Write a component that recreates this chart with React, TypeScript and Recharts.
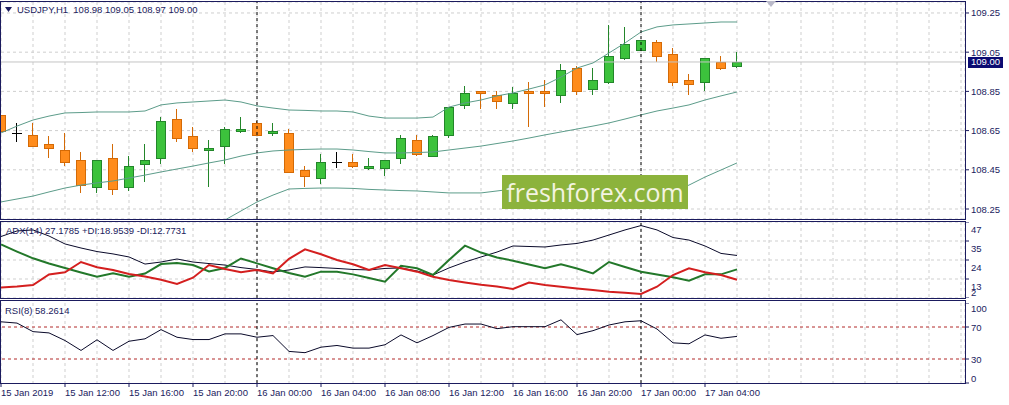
import React from 'react';
import { ComposedChart, Bar, Line, XAxis, YAxis, CartesianGrid, ReferenceLine } from 'recharts';

// ---------- data ----------
const opens = [108.73, 108.64, 108.63, 108.58, 108.55, 108.50, 108.36, 108.51, 108.36, 108.48, 108.51, 108.71, 108.62, 108.55, 108.57, 108.65, 108.69, 108.64, 108.64, 108.45, 108.41, 108.49, 108.49, 108.46, 108.46, 108.51, 108.60, 108.52, 108.63, 108.78, 108.85, 108.83, 108.79, 108.85, 108.85, 108.83, 108.97, 108.86, 108.90, 109.02, 109.06, 109.10, 109.04, 108.91, 108.90, 109.00, 108.98];
const highs = [108.75, 108.69, 108.69, 108.62, 108.64, 108.54, 108.50, 108.58, 108.52, 108.58, 108.72, 108.76, 108.67, 108.60, 108.67, 108.72, 108.70, 108.69, 108.66, 108.47, 108.53, 108.54, 108.53, 108.51, 108.50, 108.63, 108.63, 108.63, 108.77, 108.88, 108.85, 108.85, 108.87, 108.90, 108.91, 108.99, 108.98, 108.97, 109.19, 109.18, 109.11, 109.11, 109.07, 108.94, 109.02, 109.03, 109.05];
const lows = [108.64, 108.59, 108.57, 108.51, 108.47, 108.33, 108.33, 108.32, 108.34, 108.39, 108.48, 108.59, 108.54, 108.36, 108.48, 108.64, 108.62, 108.62, 108.44, 108.36, 108.38, 108.46, 108.46, 108.45, 108.42, 108.48, 108.52, 108.52, 108.61, 108.76, 108.76, 108.76, 108.76, 108.67, 108.77, 108.79, 108.83, 108.83, 108.89, 109.01, 109.06, 109.00, 108.88, 108.83, 108.85, 108.96, 108.97];
const closes = [108.65, 108.64, 108.57, 108.56, 108.49, 108.37, 108.50, 108.35, 108.47, 108.50, 108.70, 108.61, 108.56, 108.56, 108.66, 108.66, 108.63, 108.65, 108.44, 108.42, 108.49, 108.49, 108.47, 108.47, 108.50, 108.61, 108.53, 108.62, 108.77, 108.84, 108.84, 108.80, 108.84, 108.84, 108.84, 108.96, 108.85, 108.91, 109.03, 109.09, 109.11, 109.03, 108.90, 108.89, 109.02, 108.97, 109.00];

const bbUpper = [108.638, 108.673, 108.704, 108.724, 108.740, 108.742, 108.745, 108.745, 108.745, 108.750, 108.781, 108.791, 108.796, 108.801, 108.806, 108.796, 108.776, 108.765, 108.755, 108.753, 108.750, 108.750, 108.745, 108.724, 108.714, 108.714, 108.714, 108.719, 108.770, 108.791, 108.806, 108.827, 108.842, 108.862, 108.883, 108.923, 108.969, 108.995, 109.046, 109.097, 109.153, 109.179, 109.189, 109.194, 109.199, 109.204, 109.204];
const bbMiddle = [108.286, 108.301, 108.316, 108.337, 108.357, 108.372, 108.383, 108.393, 108.408, 108.423, 108.439, 108.454, 108.469, 108.485, 108.500, 108.520, 108.536, 108.546, 108.551, 108.554, 108.556, 108.556, 108.551, 108.543, 108.536, 108.536, 108.538, 108.541, 108.551, 108.561, 108.571, 108.584, 108.597, 108.612, 108.628, 108.643, 108.658, 108.673, 108.689, 108.709, 108.730, 108.750, 108.765, 108.781, 108.806, 108.827, 108.847];
const bbLower = [107.934, 107.929, 107.929, 107.949, 107.974, 108.003, 108.020, 108.041, 108.071, 108.097, 108.097, 108.117, 108.143, 108.168, 108.194, 108.240, 108.286, 108.321, 108.352, 108.355, 108.357, 108.357, 108.355, 108.350, 108.347, 108.344, 108.342, 108.337, 108.332, 108.332, 108.332, 108.342, 108.352, 108.362, 108.372, 108.362, 108.347, 108.352, 108.332, 108.321, 108.306, 108.321, 108.342, 108.372, 108.413, 108.449, 108.485];

const adxMain = [38.4, 41.7, 42.3, 38.7, 34.0, 31.6, 29.5, 28.1, 26.3, 22.1, 23.3, 25.1, 23.3, 22.4, 21.5, 20.0, 18.9, 17.4, 18.6, 20.4, 20.0, 19.5, 18.9, 18.6, 19.5, 19.8, 18.0, 15.6, 19.8, 23.3, 26.3, 29.2, 32.8, 32.5, 32.2, 33.4, 34.3, 36.3, 39.3, 42.3, 44.9, 42.3, 37.8, 36.3, 32.8, 28.4, 27.1785];
const plusDI = [33.7, 29.5, 25.5, 22.4, 19.8, 17.1, 14.6, 16.6, 14.6, 16.5, 22.1, 22.7, 21.5, 17.7, 19.8, 25.4, 22.5, 19.6, 16.8, 14.6, 17.6, 17.6, 16.0, 13.8, 11.7, 21.1, 19.6, 15.6, 24.5, 33.0, 28.9, 26.0, 24.1, 21.8, 19.6, 22.0, 19.5, 16.6, 23.3, 20.4, 17.6, 15.9, 14.3, 12.2, 16.0, 16.0, 18.9539];
const minusDI = [8.2, 8.8, 9.7, 15.9, 17.2, 23.3, 20.2, 18.6, 16.2, 14.7, 12.8, 10.3, 14.0, 21.5, 19.2, 17.2, 18.6, 16.6, 25.2, 30.8, 27.9, 24.5, 22.0, 18.6, 21.5, 19.6, 17.6, 14.6, 12.7, 11.2, 9.8, 8.8, 7.3, 11.1, 9.7, 8.7, 7.6, 6.7, 5.7, 5.1, 4.4, 8.7, 15.6, 19.6, 17.2, 15.6, 12.7731];
const rsiValues = [76.5, 74.9, 64.2, 62.6, 53.1, 40.7, 54.0, 40.7, 52.2, 55.2, 66.7, 57.2, 54.3, 54.3, 61.4, 61.4, 57.2, 59.3, 39.5, 37.9, 44.8, 46.9, 43.6, 43.6, 47.8, 60.1, 50.2, 59.3, 69.5, 73.7, 73.7, 67.9, 70.4, 70.4, 70.4, 79.0, 60.5, 65.4, 72.5, 76.5, 77.8, 67.5, 50.2, 49.0, 60.1, 55.9, 58.2614];

const timeLabels = ['15 Jan 2019', '15 Jan 12:00', '15 Jan 16:00', '15 Jan 20:00', '16 Jan 00:00', '16 Jan 04:00', '16 Jan 08:00', '16 Jan 12:00', '16 Jan 16:00', '16 Jan 20:00', '17 Jan 00:00', '17 Jan 04:00'];
const priceTicks = [108.25, 108.45, 108.65, 108.85, 109.05, 109.25];
const adxTicks = [2, 13.25, 24.5, 35.75, 47];
const rsiTicks = [0, 30, 70, 100];
const rsiLevels = [30, 70];
const separatorBars = [16, 40];
const symbol = 'USDJPY,H1';

// ---------- layout / style ----------
const W = 1009;
const AXIS_W = 44;
const X_DOMAIN: [number, number] = [0, 60.25];
const PRICE_DOMAIN: [number, number] = [108.199, 109.306];
const BARS_PER_LABEL = 4;
const BARS_PER_GRID = 2;
const FONT = "'Liberation Sans', Arial, sans-serif";
const FS = 9.5;
const NAVY = '#1b1b5e';
const GRID = '#cfcfcf';
const BB = '#5c9c8a';
const UP_FILL = '#3cc23c', UP_LINE = '#23862a';
const DN_FILL = '#ff8c1c', DN_LINE = '#d46a06';

const gridTicks = Array.from({ length: 31 }, (_, j) => j * BARS_PER_GRID);
const timeTicks = timeLabels.map((_, j) => j * BARS_PER_LABEL);
const last = closes.length - 1;

const Candle = (props: any) => {
  const { x, y, width, height, payload } = props;
  if (x == null || y == null || !payload) return null;
  const top = Math.min(y, y + height);
  const span = Math.abs(height);
  const { o, h, l, c } = payload;
  const k = h > l ? span / (h - l) : 0;
  const py = (v: number) => top + (h - v) * k;
  const cx = Math.round(x + width / 2) - 0.5;
  const yh = Math.round(py(h)), yl = Math.round(py(l));
  const yo = Math.round(py(o)), yc = Math.round(py(c));
  const bx = Math.round(x) + 0.5;
  const bw = Math.round(width) - 1;
  if (o === c) {
    return (
      <g>
        <line x1={cx} x2={cx} y1={yh} y2={yl} stroke="#000" strokeWidth={1} />
        <line x1={bx - 0.5} x2={bx + bw + 0.5} y1={yo + 0.5} y2={yo + 0.5} stroke="#000" strokeWidth={1} />
      </g>
    );
  }
  const bull = c > o;
  const bt = Math.min(yo, yc);
  const bh = Math.max(Math.abs(yo - yc), 1);
  return (
    <g>
      <line x1={cx} x2={cx} y1={yh} y2={yl} stroke={bull ? UP_LINE : DN_LINE} strokeWidth={1} />
      <rect x={bx} y={bt + 0.5} width={bw} height={bh} fill={bull ? UP_FILL : DN_FILL} stroke={bull ? UP_LINE : DN_LINE} strokeWidth={1} />
    </g>
  );
};

const PriceTick = (p: any) => (
  <text x={p.x} y={p.y} dy={3.5} textAnchor="start" fontFamily={FONT} fontSize={FS} fill={NAVY}>
    {Number(p.payload.value).toFixed(2)}
  </text>
);

const AdxTick = (p: any) => {
  const v = Number(p.payload.value);
  const dy = v === adxTicks[0] ? -2.5 : 10.5;
  return (
    <text x={p.x} y={p.y} dy={dy} textAnchor="start" fontFamily={FONT} fontSize={FS} fill={NAVY}>
      {Math.floor(v)}
    </text>
  );
};

const RsiTick = (p: any) => {
  const v = Number(p.payload.value);
  const dy = v === rsiTicks[rsiTicks.length - 1] ? 8.5 : v === rsiTicks[0] ? -1.5 : 3.5;
  return (
    <text x={p.x} y={p.y} dy={dy} textAnchor="start" fontFamily={FONT} fontSize={FS} fill={NAVY}>
      {v}
    </text>
  );
};

const TimeTick = (p: any) => {
  const idx = Math.round(Number(p.payload.value) / BARS_PER_LABEL);
  return (
    <text x={p.x} y={p.y} dy={7} textAnchor="start" fontFamily={FONT} fontSize={FS} fill={NAVY}>
      {timeLabels[idx]}
    </text>
  );
};

const PriceBox = (p: any) => {
  const vb = p.viewBox || {};
  const bx = (vb.x || 0) + (vb.width || 0) + 3;
  return (
    <g>
      <rect x={bx} y={vb.y - 5} width={35} height={11} fill="#0b0b72" />
      <text x={bx + 17.5} y={vb.y} dy={3.5} textAnchor="middle" fontFamily={FONT} fontSize={FS} fill="#fff">
        {closes[last].toFixed(2)}
      </text>
    </g>
  );
};

const border = (top: number, height: number): React.CSSProperties => ({
  position: 'absolute', left: 0, top, width: 966, height, border: `1px solid ${NAVY}`,
  boxSizing: 'border-box', pointerEvents: 'none',
});

const textStyle: React.CSSProperties = {
  position: 'absolute', fontFamily: FONT, fontSize: FS, color: NAVY, whiteSpace: 'pre', lineHeight: '11px',
};

export default function App() {
  const rows = opens.map((o, i) => ({
    i, o, h: highs[i], l: lows[i], c: closes[i], range: [lows[i], highs[i]],
    bbU: bbUpper[i], bbM: bbMiddle[i], bbL: bbLower[i],
    adx: adxMain[i], pdi: plusDI[i], mdi: minusDI[i], rsi: rsiValues[i],
  }));
  const margin = { top: 0, right: 0, bottom: 0, left: 1 };

  return (
    <div style={{ position: 'absolute', left: 0, top: 0, width: W, height: 405, background: '#fff', overflow: 'hidden' }}>
      {/* main price panel */}
      <div style={{ position: 'absolute', left: 0, top: 2 }}>
        <ComposedChart width={W} height={217} data={rows} margin={margin}>
          <XAxis xAxisId="g" type="number" dataKey="i" domain={X_DOMAIN} ticks={gridTicks} hide height={0} allowDataOverflow />
          <YAxis yAxisId="p" orientation="right" width={AXIS_W} domain={PRICE_DOMAIN} ticks={priceTicks}
            allowDataOverflow interval={0} axisLine={false} tickSize={4} tickMargin={2}
            tickLine={{ stroke: NAVY }} tick={PriceTick} />
          <CartesianGrid xAxisId="g" yAxisId="p" stroke={GRID} strokeDasharray="3 3" />
          <ReferenceLine xAxisId="g" yAxisId="p" y={closes[last]} stroke="#c4c4c4" strokeWidth={1} label={PriceBox} />
          <Bar xAxisId="g" yAxisId="p" dataKey="range" barSize={10} shape={Candle} isAnimationActive={false} />
          <Line xAxisId="g" yAxisId="p" dataKey="bbU" stroke={BB} strokeWidth={1} dot={false} activeDot={false} isAnimationActive={false} type="linear" />
          <Line xAxisId="g" yAxisId="p" dataKey="bbM" stroke={BB} strokeWidth={1} dot={false} activeDot={false} isAnimationActive={false} type="linear" />
          <Line xAxisId="g" yAxisId="p" dataKey="bbL" stroke={BB} strokeWidth={1} dot={false} activeDot={false} isAnimationActive={false} type="linear" />
          {separatorBars.map((b) => (
            <ReferenceLine key={`m${b}`} x={b} xAxisId="g" yAxisId="p" stroke="#000" strokeDasharray="3 3" strokeWidth={1} />
          ))}
        </ComposedChart>
      </div>

      {/* ADX panel */}
      <div style={{ position: 'absolute', left: 0, top: 222 }}>
        <ComposedChart width={W} height={76} data={rows} margin={margin}>
          <XAxis xAxisId="g" type="number" dataKey="i" domain={X_DOMAIN} ticks={gridTicks} hide height={0} allowDataOverflow />
          <YAxis yAxisId="a" orientation="right" width={AXIS_W} domain={[adxTicks[0], adxTicks[adxTicks.length - 1]]}
            ticks={adxTicks} allowDataOverflow interval={0} axisLine={false} tickSize={4} tickMargin={2}
            tickLine={{ stroke: NAVY }} tick={AdxTick} />
          <CartesianGrid xAxisId="g" yAxisId="a" stroke={GRID} strokeDasharray="3 3" />
          {separatorBars.map((b) => (
            <ReferenceLine key={`a${b}`} x={b} xAxisId="g" yAxisId="a" stroke="#000" strokeDasharray="3 3" strokeWidth={1} />
          ))}
          <Line xAxisId="g" yAxisId="a" dataKey="adx" stroke="#0a0a2a" strokeWidth={1} dot={false} activeDot={false} isAnimationActive={false} type="linear" />
          <Line xAxisId="g" yAxisId="a" dataKey="pdi" stroke="#23782a" strokeWidth={2} dot={false} activeDot={false} isAnimationActive={false} type="linear" />
          <Line xAxisId="g" yAxisId="a" dataKey="mdi" stroke="#d41f1f" strokeWidth={2} dot={false} activeDot={false} isAnimationActive={false} type="linear" />
        </ComposedChart>
      </div>

      {/* RSI panel */}
      <div style={{ position: 'absolute', left: 0, top: 303 }}>
        <ComposedChart width={W} height={100} data={rows} margin={margin}>
          <XAxis xAxisId="t" type="number" dataKey="i" domain={X_DOMAIN} ticks={timeTicks} height={20}
            allowDataOverflow interval={0} axisLine={false} tickSize={4} tickMargin={2}
            tickLine={{ stroke: NAVY }} tick={TimeTick} />
          <XAxis xAxisId="g" type="number" dataKey="i" domain={X_DOMAIN} ticks={gridTicks} hide height={0} allowDataOverflow />
          <YAxis yAxisId="r" orientation="right" width={AXIS_W} domain={[rsiTicks[0], rsiTicks[rsiTicks.length - 1]]}
            ticks={rsiTicks} allowDataOverflow interval={0} axisLine={false} tickSize={4} tickMargin={2}
            tickLine={{ stroke: NAVY }} tick={RsiTick} />
          <CartesianGrid xAxisId="g" yAxisId="r" stroke={GRID} strokeDasharray="3 3" horizontal={false} />
          {rsiLevels.map((v) => (
            <ReferenceLine key={`l${v}`} y={v} xAxisId="g" yAxisId="r" stroke="#b22a2a" strokeDasharray="3 3" strokeWidth={1} />
          ))}
          {separatorBars.map((b) => (
            <ReferenceLine key={`r${b}`} x={b} xAxisId="g" yAxisId="r" stroke="#000" strokeDasharray="3 3" strokeWidth={1} />
          ))}
          <Line xAxisId="g" yAxisId="r" dataKey="rsi" stroke="#0a0a2a" strokeWidth={1} dot={false} activeDot={false} isAnimationActive={false} type="linear" />
        </ComposedChart>
      </div>

      {/* panel frames */}
      <div style={border(1, 219)} />
      <div style={border(221, 78)} />
      <div style={border(300, 84)} />

      {/* watermark */}
      <div style={{
        position: 'absolute', left: 502, top: 175, width: 186, height: 34, background: '#8cb33c',
        color: '#f4f4e2', fontFamily: "'Open Sans', sans-serif", fontSize: 25, lineHeight: '34px', textAlign: 'center',
      }}>freshforex.com</div>

      {/* chart shift marker */}
      <div style={{
        position: 'absolute', left: 766, top: 1, width: 0, height: 0,
        borderLeft: '5px solid transparent', borderRight: '5px solid transparent', borderTop: '6px solid #b9b9c9',
      }} />

      {/* headers */}
      <svg style={{ position: 'absolute', left: 5, top: 7 }} width={8} height={6}>
        <polygon points="0,0 7,0 3.5,5" fill={NAVY} />
      </svg>
      <div style={{ ...textStyle, left: 17, top: 4 }}>
        {`${symbol}  ${opens[last].toFixed(2)} ${highs[last].toFixed(2)} ${lows[last].toFixed(2)} ${closes[last].toFixed(2)}`}
      </div>
      <div style={{ ...textStyle, left: 6, top: 225 }}>
        {`ADX(14) ${adxMain[last].toFixed(4)} +DI:${plusDI[last].toFixed(4)} -DI:${minusDI[last].toFixed(4)}`}
      </div>
      <div style={{ ...textStyle, left: 5, top: 305 }}>
        {`RSI(8) ${rsiValues[last].toFixed(4)}`}
      </div>
    </div>
  );
}
